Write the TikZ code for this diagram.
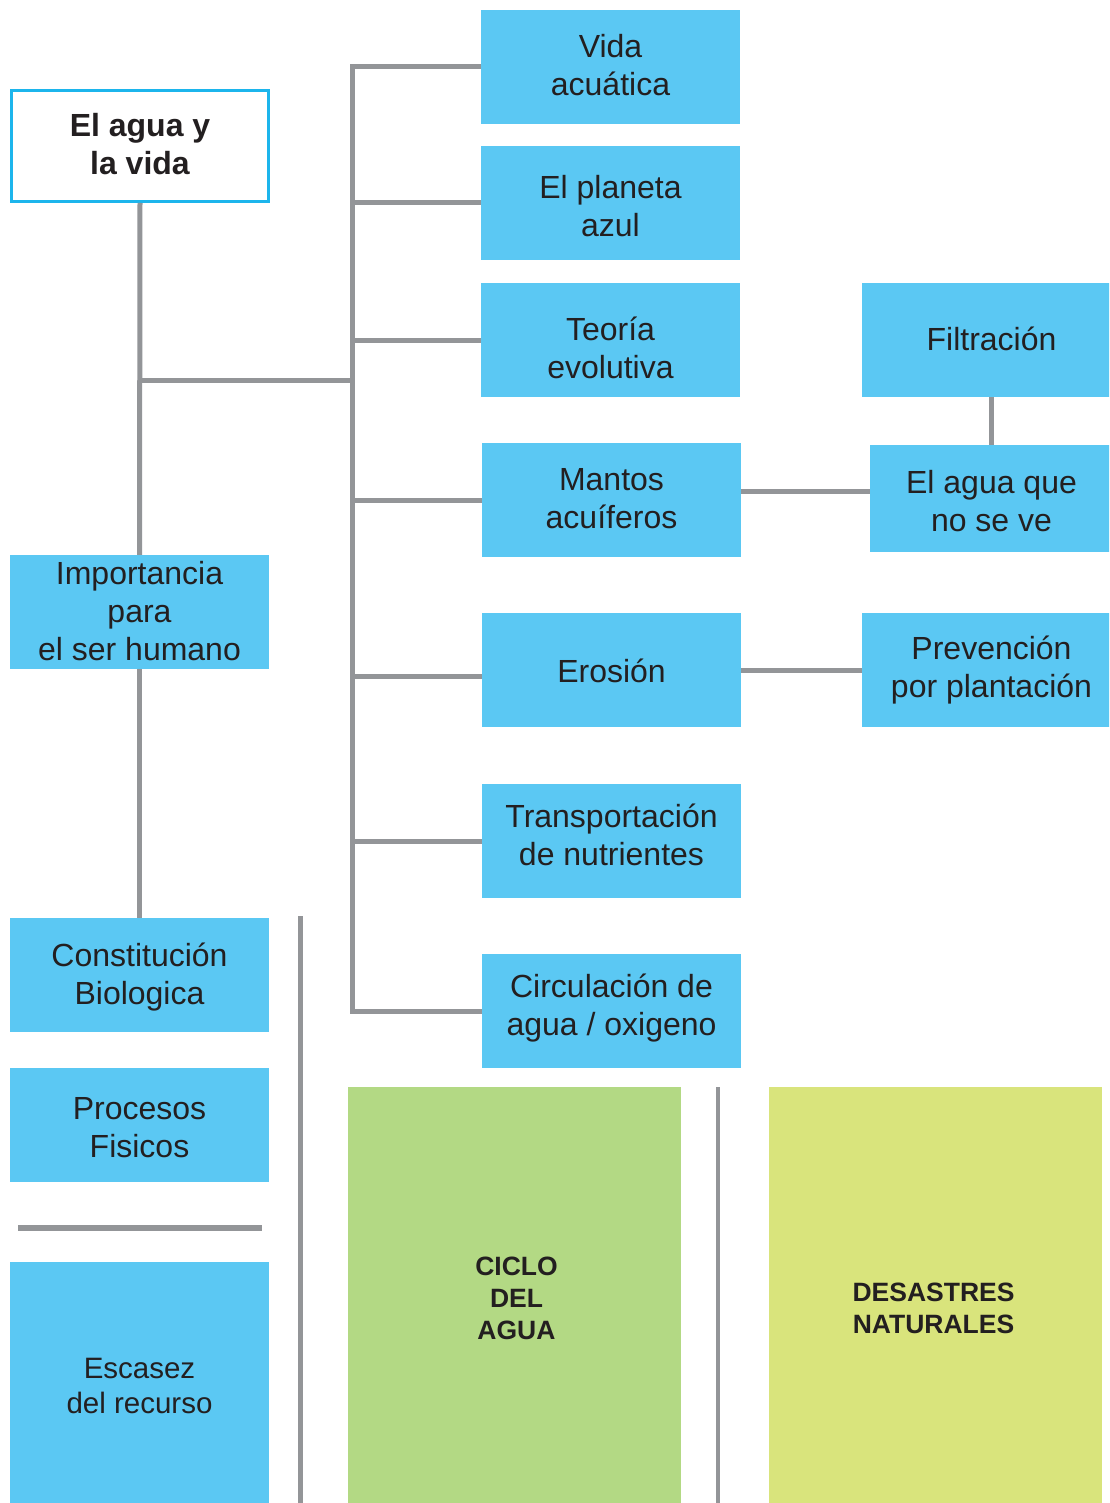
\documentclass[tikz,border=0pt]{standalone}
\usepackage{fontspec}
\setmainfont{Liberation Sans}
\definecolor{boxblue}{HTML}{5BC8F3}
\definecolor{linegray}{HTML}{939598}
\definecolor{titleblue}{HTML}{1CB5EC}
\definecolor{cgreen}{HTML}{B3D984}
\definecolor{cyellow}{HTML}{D9E47C}
\definecolor{txt}{HTML}{231F20}
\begin{document}
\begin{tikzpicture}[x=1pt,y=-1pt,
  bluebox/.style={fill=boxblue, draw=none, inner sep=0pt, minimum width=259pt, minimum height=114pt},
  btxt/.style={align=center, text=txt, inner sep=0pt, font=\fontsize{32}{38}\selectfont},
  titlebox/.style={fill=white, draw=titleblue, line width=3pt, inner sep=0pt, minimum width=257pt, minimum height=111pt},
  ttxt/.style={align=center, text=txt, inner sep=0pt, font=\bfseries\fontsize{32}{38}\selectfont},
  bigbox/.style={draw=none, inner sep=0pt, minimum width=333pt, minimum height=416pt},
  captxt/.style={align=center, text=txt, inner sep=0pt, font=\bfseries\fontsize{26.5}{32}\selectfont},
  conn/.style={draw=linegray, line width=5pt},
  sepline/.style={draw=linegray, line width=5pt}]
\useasboundingbox (0,0) rectangle (1109,1503);
\clip (0,0) rectangle (1109,1503);
\fill[white] (0,0) rectangle (1109,1503);

% left column
\node[titlebox] (title) at (140,146) {};
\node[ttxt] (titleT) at ([yshift=2pt]title.center) {El agua y\\la vida};
\node[bluebox] (imp) at (139.5,612) {};
\node[btxt] (impT) at ([yshift=0.5pt]imp.center) {Importancia\\para\\el ser humano};
\node[bluebox] (const) at (139.5,975) {};
\node[btxt] (constT) at ([yshift=-2.5pt]const.center) {Constitución\\Biologica};
\node[bluebox] (proc) at (139.5,1125) {};
\node[btxt] (procT) at ([yshift=-2.5pt]proc.center) {Procesos\\Fisicos};
\node[bluebox, minimum height=241pt] (esc) at (139.5,1382.5) {};
\node[btxt, font=\fontsize{29.5}{35}\selectfont] (escT) at ([yshift=-3pt]esc.center) {Escasez\\del recurso};

% middle column
\node[bluebox] (vida) at (610.5,67) {};
\node[btxt] (vidaT) at ([yshift=2pt]vida.center) {Vida\\acuática};
\node[bluebox] (planeta) at (610.5,203) {};
\node[btxt] (planetaT) at ([yshift=-3.5pt]planeta.center) {El planeta\\azul};
\node[bluebox] (teoria) at (610.5,340) {};
\node[btxt] (teoriaT) at ([yshift=-7.5pt]teoria.center) {Teoría\\evolutiva};
\node[bluebox] (mantos) at (611.5,500) {};
\node[btxt] (mantosT) at ([yshift=1.5pt]mantos.center) {Mantos\\acuíferos};
\node[bluebox] (ero) at (611.5,670) {};
\node[btxt] (eroT) at ([yshift=-0.5pt]ero.center) {Erosión};
\node[bluebox] (transp) at (611.5,841) {};
\node[btxt] (transpT) at ([yshift=6pt]transp.center) {Transportación\\de nutrientes};
\node[bluebox] (circ) at (611.5,1011) {};
\node[btxt] (circT) at ([yshift=3pt]circ.center) {Circulación de\\agua / oxigeno};

% right column
\node[bluebox] (filtr) at (991.5,340) {};
\node[btxt] (filtrT) at ([yshift=1pt]filtr.center) {Filtración};
\node[bluebox, minimum width=243pt, minimum height=107pt] (agua) at (991.5,498.5) {};
\node[btxt] (aguaT) at ([yshift=-3pt]agua.center) {El agua que\\no se ve};
\node[bluebox] (prev) at (991.5,670) {};
\node[btxt] (prevT) at (prev.center) {Prevención\\por plantación};

% bottom boxes
\node[bigbox, fill=cgreen] (ciclo) at (514.5,1295) {};
\node[captxt] (cicloT) at ([xshift=2pt,yshift=-3pt]ciclo.center) {CICLO\\DEL\\AGUA};
\node[bigbox, fill=cyellow] (des) at (935.5,1295) {};
\node[captxt] (desT) at ([xshift=-2pt,yshift=-13pt]des.center) {DESASTRES\\NATURALES};

% connectors
\draw[conn] (title.south) -- (imp.north);
\draw[conn] (imp.south) -- (const.north);
\coordinate (j) at (140,380);
\coordinate (tx) at (352,380);
\draw[conn] (j) -- (tx);
\draw[conn, line join=miter] (vida.west) -- (vida.west -| tx) -- (circ.west -| tx) -- (circ.west);
\foreach \n in {planeta,teoria,mantos,transp}
  \draw[conn] (\n.west) -- (\n.west -| tx);
\draw[conn] ([yshift=-6pt]ero.west) -- ([yshift=-6pt]ero.west -| tx);
\draw[conn] ([yshift=9pt]mantos.east) -- ([yshift=9pt]mantos.east -| agua.west);
\draw[conn] (ero.east) -- (prev.west);
\draw[conn] (filtr.south) -- (agua.north);

% separator lines
\coordinate (s1a) at (300,916);
\coordinate (s1b) at (300,1503);
\draw[sepline] (s1a) -- (s1b);
\coordinate (s2a) at (18,1228);
\coordinate (s2b) at (262,1228);
\draw[sepline, line width=6pt] (s2a) -- (s2b);
\coordinate (s3a) at (718,1087);
\coordinate (s3b) at (718,1503);
\draw[sepline, line width=4pt] (s3a) -- (s3b);
\end{tikzpicture}
\end{document}
